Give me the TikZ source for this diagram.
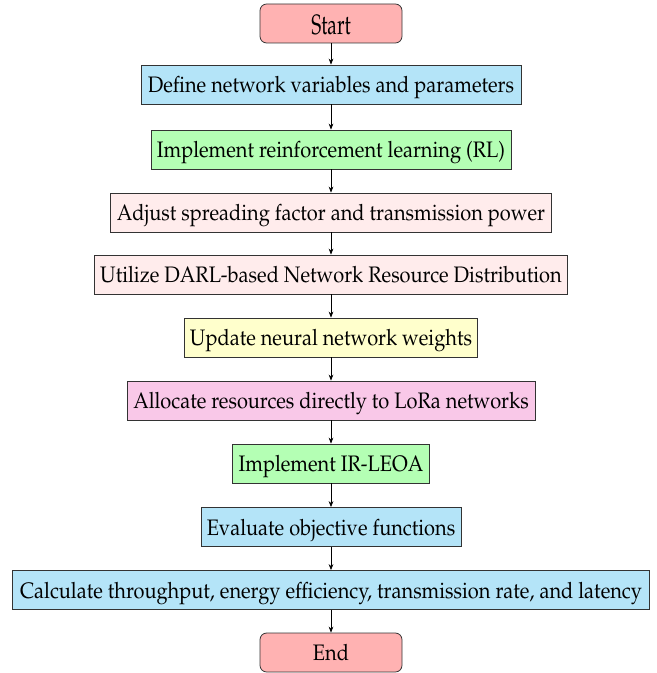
\documentclass[tikz,border=0pt]{standalone}
\usepackage[T1]{fontenc}
\usepackage{mathpazo}
\usepackage{graphicx}
\usetikzlibrary{arrows.meta}
\definecolor{cpink}{RGB}{255,178,178}
\definecolor{cblue}{RGB}{180,228,248}
\definecolor{cgreen}{RGB}{180,255,180}
\definecolor{clpink}{RGB}{255,236,236}
\definecolor{cyellow}{RGB}{255,255,204}
\definecolor{cmag}{RGB}{249,200,232}
\newcommand\vtxt[1]{\scalebox{1}[1.12]{#1}}
\tikzset{
  box/.style={draw=black!80, line width=0.6pt, minimum height=29.25pt, inner sep=0pt,
    text height=18pt, text depth=5.4pt, font=\fontsize{15}{17}\selectfont},
  rbox/.style={box, rounded corners=5pt, fill=cpink},
  flow/.style={-{Stealth[length=4.5pt,width=3.5pt]}, line width=0.5pt}
}
\begin{document}
\begin{tikzpicture}[x=0.75pt,y=-0.75pt]
\useasboundingbox (0,0) rectangle (656,673);
\node[rbox, minimum width=106.5pt, text height=22pt, text depth=5.5pt] (start) at (331,23.5) {\scalebox{0.68}[1]{\fontsize{21}{22}\selectfont Start}};
\node[box, fill=cblue, minimum width=285pt] (define) at (331,84.5) {\vtxt{Define network variables and parameters}};
\node[box, fill=cgreen, minimum width=270pt] (rl) at (331,149.5) {\vtxt{Implement reinforcement learning (RL)}};
\node[box, fill=clpink, minimum width=330.75pt] (adjust) at (331,212.5) {\vtxt{Adjust spreading factor and transmission power}};
\node[box, fill=clpink, minimum width=354.75pt] (utilize) at (331,274.5) {\vtxt{Utilize DARL-based Network Resource Distribution}};
\node[box, fill=cyellow, minimum width=219.75pt] (update) at (331,337.5) {\vtxt{Update neural network weights}};
\node[box, fill=cmag, minimum width=306pt] (allocate) at (331,400.5) {\vtxt{Allocate resources directly to LoRa networks}};
\node[box, fill=cgreen, minimum width=147.75pt] (ir) at (331,463.5) {\vtxt{Implement IR-LEOA}};
\node[box, fill=cblue, minimum width=195pt] (eval) at (331,527) {\vtxt{Evaluate objective functions}};
\node[box, fill=cblue, minimum width=478pt] (calc) at (331,590) {\vtxt{Calculate throughput, energy efficiency, transmission rate, and latency}};
\node[rbox, minimum width=106.5pt] (end) at (331,652.5) {\vtxt{End}};
\draw[flow] (start) -- (define);
\draw[flow] (define) -- (rl);
\draw[flow] (rl) -- (adjust);
\draw[flow] (adjust) -- (utilize);
\draw[flow] (utilize) -- (update);
\draw[flow] (update) -- (allocate);
\draw[flow] (allocate) -- (ir);
\draw[flow] (ir) -- (eval);
\draw[flow] (eval) -- (calc);
\draw[flow] (calc) -- (end);
\end{tikzpicture}
\end{document}
